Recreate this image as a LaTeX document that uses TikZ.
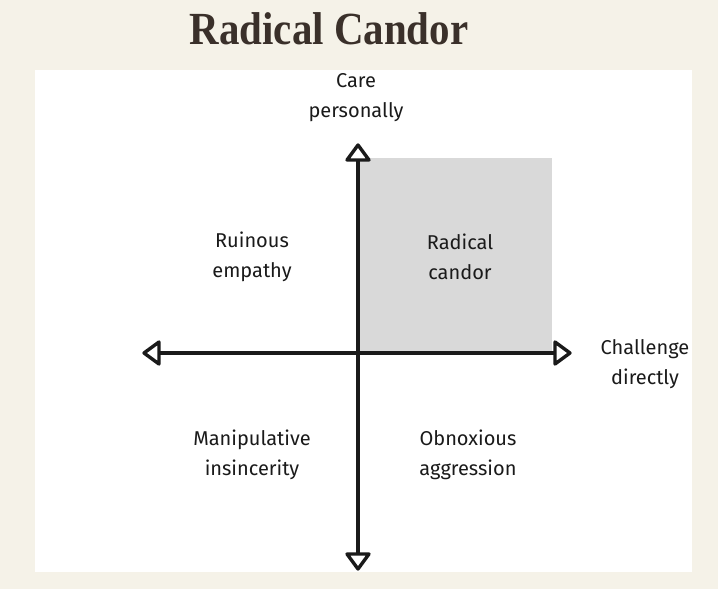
\documentclass[tikz,border=0pt]{standalone}
\usepackage{fontspec}
\setmainfont{Liberation Serif}
\newfontfamily\handfont{Fira Sans}
\definecolor{bgcream}{HTML}{F5F2E8}
\definecolor{titlebrown}{HTML}{3A302A}
\definecolor{quadgray}{HTML}{D9D9D9}
\definecolor{axisblack}{HTML}{1A1A1A}
\begin{document}
\begin{tikzpicture}[x=1pt,y=-1pt,
  lbl/.style={font=\handfont\fontsize{20}{30}\selectfont, align=center, text=axisblack, inner sep=0pt},
  axis/.style={draw=axisblack, line width=3.8pt},
  head/.style={draw=axisblack, fill=white, line width=3.4pt, line join=round}]
\useasboundingbox (0,0) rectangle (718,589);
\fill[bgcream] (0,0) rectangle (718,589);
\node[font=\bfseries\fontsize{46}{50}\selectfont, text=titlebrown, xscale=0.89] (title) at (329,29) {Radical Candor};
\fill[white] (35,70) rectangle (692,572);
\fill[quadgray] (358,158) rectangle (552,353);
\coordinate (top) at (358,145);
\coordinate (bot) at (358,569);
\coordinate (lft) at (144,353);
\coordinate (rgt) at (570,353);
\draw[axis] ([xshift=14pt]lft) -- ([xshift=-14pt]rgt);
\draw[axis] ([yshift=-14pt]top) -- ([yshift=14pt]bot);
\draw[head, shift={(top)}] (-11,15) -- (0,0) -- (11,15) -- cycle;
\draw[head, shift={(bot)}] (-11,-15) -- (0,0) -- (11,-15) -- cycle;
\draw[head, shift={(lft)}] (15,-11) -- (0,0) -- (15,11) -- cycle;
\draw[head, shift={(rgt)}] (-15,-11) -- (0,0) -- (-15,11) -- cycle;
\node[lbl] (care) at (356,98) {Care\\personally};
\node[lbl] (chal) at (645,364) {Challenge\\directly};
\node[lbl] (ruin) at (252,257) {Ruinous\\empathy};
\node[lbl] (radc) at (460,257) {Radical\\candor};
\node[lbl] (mani) at (252,455) {Manipulative\\insincerity};
\node[lbl] (obno) at (468,455) {Obnoxious\\aggression};
\end{tikzpicture}
\end{document}
